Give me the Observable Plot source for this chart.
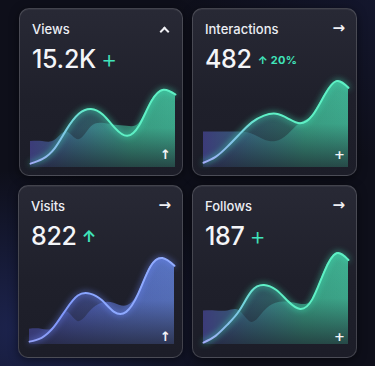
<!DOCTYPE html>
<html>
<head>
<meta charset="utf-8">
<script src="https://cdn.jsdelivr.net/npm/d3@7"></script>
<script src="https://cdn.jsdelivr.net/npm/@observablehq/plot@0.6"></script>
<style>
  html, body { margin: 0; padding: 0; }
  body {
    width: 375px; height: 366px; overflow: hidden; position: relative;
    font-family: Inter, "Noto Sans", sans-serif;
    background:
      radial-gradient(ellipse 220px 160px at 20px 330px, rgba(40,52,120,0.55), rgba(40,52,120,0) 100%),
      radial-gradient(ellipse 200px 160px at 375px 0px, rgba(30,36,80,0.35), rgba(30,36,80,0) 100%),
      #0e0f1a;
  }
  .card {
    position: absolute; box-sizing: border-box;
    border: 1px solid rgba(255,255,255,0.17);
    border-radius: 10px;
    background: linear-gradient(180deg, #282935 0%, #1f202b 55%, #1c1d28 100%);
    box-shadow: 0 2px 10px rgba(0,0,0,0.5), inset 0 1px 0 rgba(255,255,255,0.05);
    overflow: hidden;
  }
  .title { position: absolute; left: 12px; top: 14px; font-size: 13px; line-height: 13px; font-weight: 500; color: #eceef4; }
  .value { position: absolute; left: 12px; top: 38px; font-size: 25px; line-height: 25px; font-weight: 500; color: #f4f5f8; letter-spacing: -0.3px; white-space: nowrap; }
  .badge { color: #40e4bb; font-weight: 300; margin-left: 5px; }
  .badge.small { font-size: 11px; font-weight: 700; position: relative; top: -4px; margin-left: 6px; letter-spacing: 0.3px; }
  .badge.arrow { font-size: 16px; font-weight: 700; position: relative; top: -3px; }
  .topicon { position: absolute; right: 11px; top: 12px; font-size: 15px; line-height: 15px; font-weight: 700; color: #f0f0f4; font-family: "DejaVu Sans", sans-serif; }
  .chev { position: absolute; right: 14px; top: 19px; width: 5px; height: 5px; border-left: 2px solid #f0f0f4; border-top: 2px solid #f0f0f4; transform: rotate(45deg); }
  .boticon { position: absolute; right: 11px; bottom: 14px; font-size: 13px; line-height: 13px; font-weight: 700; color: #f4f4f8; font-family: "DejaVu Sans", sans-serif; }
  .chart { position: absolute; left: 10px; top: 62px; }
  .chart g[aria-label="line"] path { filter: drop-shadow(0 0 3px var(--glow)); }
</style>
</head>
<body>
<script>
// ---- data ----
const categories = ["Views", "Interactions", "Visits", "Follows"];
const totals = ["15.2K", "482", "822", "187"];
const badges = ["+", "↑ 20%", "↑", "+"];
const cornerIcons = ["chevron", "→", "→", "→"];
const footIcons = ["↑", "+", "↑", "+"];
const xIndex = [0, 1, 2, 3, 4, 5, 6, 7, 8, 9, 10, 11, 12];

const viewsMain      = [4, 9, 20, 40, 56, 61, 55, 41, 33, 44, 69, 81, 76];
const viewsSecond    = [27, 27, 28, 37, 29, 42, 46, 44, 43, 46, 69, 81, 76];
const interMain      = [5, 11, 22, 35, 47, 54, 56, 51, 46, 54, 75, 90, 83];
const interSecond    = [37, 37, 37, 37, 35, 29, 27, 34, 46, 54, 75, 90, 83];
const visitsMain     = [3, 7, 18, 36, 51, 53, 46, 34, 34, 53, 81, 90, 82];
const visitsSecond   = [16, 16, 18, 34, 24, 34, 43, 43, 40, 53, 81, 90, 82];
const followsMain    = [2, 9, 21, 36, 56, 62, 57, 45, 37, 47, 76, 95, 88];
const followsSecond  = [35, 35, 35, 35, 23, 34, 43, 44, 42, 47, 76, 95, 88];

const mainSeries = [viewsMain, interMain, visitsMain, followsMain];
const secondSeries = [viewsSecond, interSecond, visitsSecond, followsSecond];

const tealPalette = { fill: ["#5a58c8", "#4a98b8", "#46dcae", "#4cebbb"], line: ["#a3acf8", "#7fc6e6", "#5ff0c6", "#5ef0c4"], glow: "#3fe8b8" };
const bluePalette = { fill: ["#5356c0", "#5e72e4", "#6a8cf8", "#7096ff"], line: ["#95a2f6", "#8098fb", "#8aa6ff", "#92acff"], glow: "#6e8cff" };
const palettes = [tealPalette, tealPalette, bluePalette, tealPalette];

const cardBoxes = [
  { left: 19, top: 8, width: 164, height: 168 },
  { left: 192, top: 8, width: 165, height: 168 },
  { left: 18, top: 185, width: 165, height: 173 },
  { left: 192, top: 185, width: 165, height: 173 }
];

function defsMark(id, pal) {
  return () => {
    const ns = "http://www.w3.org/2000/svg";
    const defs = document.createElementNS(ns, "defs");
    const mk = (gid, x2, y2, stops) => {
      const g = document.createElementNS(ns, "linearGradient");
      g.setAttribute("id", gid);
      g.setAttribute("x1", "0"); g.setAttribute("y1", "0");
      g.setAttribute("x2", x2); g.setAttribute("y2", y2);
      stops.forEach(([o, c, op]) => {
        const s = document.createElementNS(ns, "stop");
        s.setAttribute("offset", o);
        s.setAttribute("stop-color", c);
        s.setAttribute("stop-opacity", op);
        g.appendChild(s);
      });
      defs.appendChild(g);
    };
    mk(id + "-h", "1", "0", [[0, pal.fill[0], 1], [0.3, pal.fill[1], 1], [0.7, pal.fill[2], 1], [1, pal.fill[3], 1]]);
    mk(id + "-s", "1", "0", [[0, pal.line[0], 1], [0.22, pal.line[1], 1], [0.4, pal.line[2], 1], [1, pal.line[3], 1]]);
    mk(id + "-v", "0", "1", [[0, "#1c1d28", 0], [0.5, "#1c1d28", 0.08], [1, "#1c1d28", 0.7]]);
    return defs;
  };
}

function chart(i) {
  const id = "g" + i;
  const pal = palettes[i];
  const data = xIndex.map((x, k) => ({ x, a: mainSeries[i][k], b: secondSeries[i][k] }));
  return Plot.plot({
    width: 145, height: 96, margin: 0,
    style: { background: "transparent", overflow: "visible" },
    x: { domain: [0, 12], axis: null },
    y: { domain: [0, 100], axis: null },
    marks: [
      defsMark(id, pal),
      Plot.areaY(data, { x: "x", y: "b", curve: "natural", fill: `url(#${id}-h)`, fillOpacity: 0.5 }),
      Plot.areaY(data, { x: "x", y: "a", curve: "natural", fill: `url(#${id}-h)`, fillOpacity: 0.42 }),
      Plot.areaY(data, { x: "x", y: "a", curve: "natural", fill: `url(#${id}-v)` }),
      Plot.lineY(data, { x: "x", y: "a", curve: "natural", stroke: `url(#${id}-s)`, strokeWidth: 2 })
    ]
  });
}

categories.forEach((name, i) => {
  const b = cardBoxes[i];
  const card = document.createElement("div");
  card.className = "card";
  Object.assign(card.style, { left: b.left + "px", top: b.top + "px", width: b.width + "px", height: b.height + "px" });
  card.style.setProperty("--glow", palettes[i].glow);

  const t = document.createElement("div");
  t.className = "title"; t.textContent = name; card.appendChild(t);

  const v = document.createElement("div");
  v.className = "value"; v.textContent = totals[i];
  const bd = document.createElement("span");
  bd.textContent = badges[i];
  bd.className = "badge" + (badges[i].length > 1 ? " small" : badges[i] === "↑" ? " arrow" : "");
  v.appendChild(bd);
  card.appendChild(v);

  if (cornerIcons[i] === "chevron") {
    const c = document.createElement("div"); c.className = "chev"; card.appendChild(c);
  } else {
    const c = document.createElement("div"); c.className = "topicon"; c.textContent = cornerIcons[i]; card.appendChild(c);
  }

  const wrap = document.createElement("div");
  wrap.className = "chart";
  wrap.appendChild(chart(i));
  card.appendChild(wrap);

  const f = document.createElement("div");
  f.className = "boticon"; f.textContent = footIcons[i]; card.appendChild(f);

  document.body.appendChild(card);
});
</script>
</body>
</html>
